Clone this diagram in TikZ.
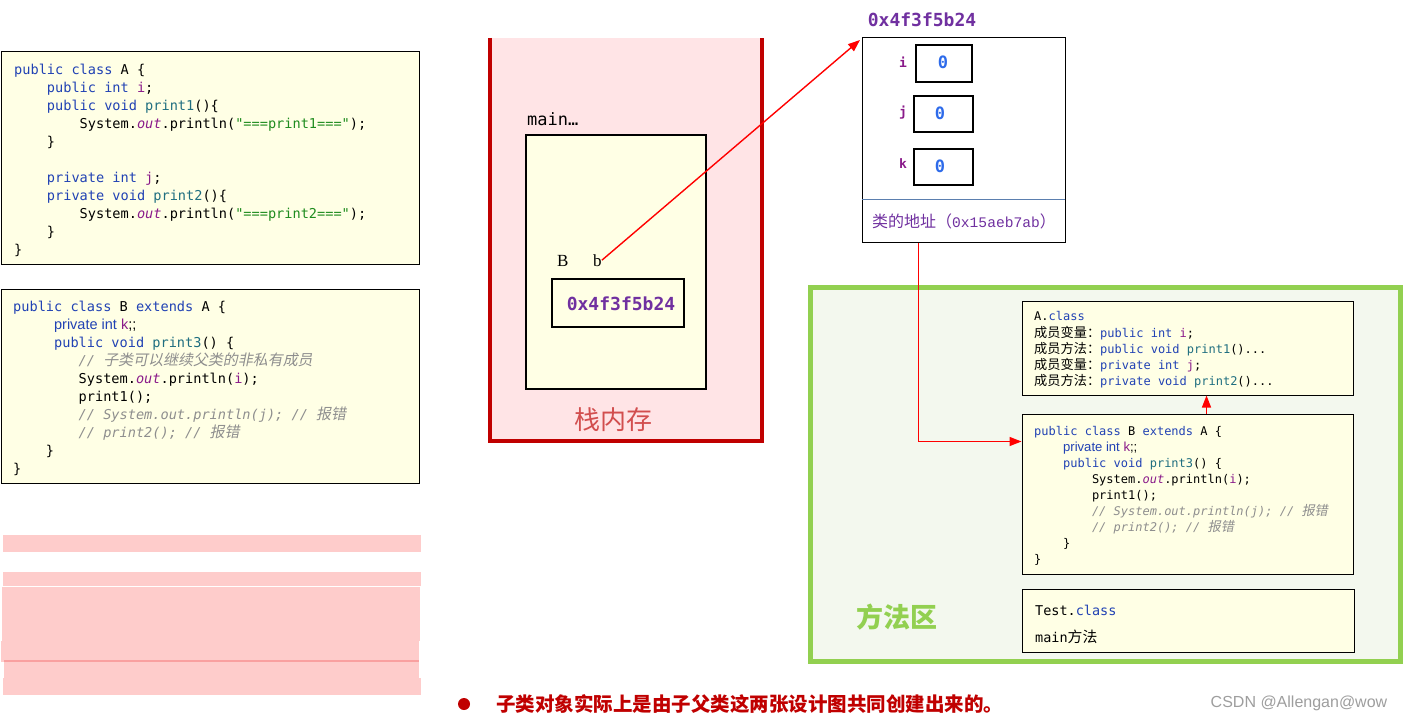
\documentclass[tikz,border=0pt]{standalone}
\usepackage{fontspec}
\usetikzlibrary{arrows.meta,fit}
\setmainfont{Liberation Serif}
\newfontfamily\jcode{DejaVu Sans Mono}
\newfontfamily\jzhfont{Noto Sans CJK SC}[Scale=1.1]
\newfontfamily\jzhitfont{Noto Sans CJK SC}[Scale=1.1,FakeSlant=0.2]
\newfontfamily\jcjk{Noto Sans CJK SC}
\newfontfamily\jsans{Liberation Sans}
\newfontfamily\jthin{Liberation Mono}
\definecolor{codeyel}{HTML}{FFFFE5}
\definecolor{kw}{HTML}{2142B4}
\definecolor{meth}{HTML}{1F6E80}
\definecolor{fld}{HTML}{8A1A8A}
\definecolor{strc}{HTML}{1E8C1E}
\definecolor{cmt}{HTML}{8E8E8E}
\definecolor{addr}{HTML}{7030A0}
\definecolor{zeroblue}{HTML}{2E6BEA}
\definecolor{stackfill}{HTML}{FFE4E6}
\definecolor{stackred}{HTML}{C00000}
\definecolor{stacklabel}{HTML}{D24E4E}
\definecolor{greenb}{HTML}{92D050}
\definecolor{greenfill}{HTML}{F3F8EE}
\definecolor{pinkblk}{HTML}{FECCCB}
\definecolor{pinkline}{HTML}{F9A0A0}
\definecolor{sepline}{HTML}{5B7FAF}
\definecolor{arrred}{HTML}{FF0000}
\definecolor{wmgray}{HTML}{9E9E9E}
\newcommand\jkw[1]{\textcolor{kw}{#1}}
\newcommand\jfl[1]{\textcolor{fld}{#1}}
\newcommand\jme[1]{\textcolor{meth}{#1}}
\newcommand\jstr[1]{\textcolor{strc}{#1}}
\newcommand\jout{\textcolor{fld}{\itshape out}}
\newcommand\jcmt[1]{\textcolor{cmt}{\itshape #1}}
\newcommand\jzh[1]{{\jzhfont #1}}
\newcommand\jzhi[1]{{\jzhitfont #1}}
\newcommand\jind[1]{\hphantom{#1}}
\tikzset{
  box/.style={draw=black, line width=1pt, fill=codeyel, inner sep=0pt},
  thickbox/.style={draw=black, line width=2pt, fill=codeyel, inner sep=0pt},
  codetxt/.style={anchor=north west, inner sep=0pt, align=left, font=\jcode\fontsize{13.6}{18}\selectfont},
  smallcode/.style={anchor=north west, inner sep=0pt, align=left, font=\jcode\fontsize{12}{16}\selectfont},
  redarrow/.style={draw=arrred, line width=1.4pt, -{Triangle[length=12pt,width=9pt]}},
  addrtxt/.style={inner sep=0pt, text=addr, font=\jcode\bfseries\fontsize{18}{20}\selectfont},
  fieldlbl/.style={anchor=base, inner sep=0pt, text=fld, font=\jcode\bfseries\fontsize{13}{14}\selectfont},
  zerotxt/.style={inner sep=0pt, text=zeroblue, font=\jcode\bfseries\fontsize{17}{18}\selectfont},
  pinkrow/.style={fill=pinkblk}
}
\begin{document}
\begin{tikzpicture}[x=1pt,y=-1pt]
\useasboundingbox (0,0) rectangle (1404,722);
\fill[white] (0,0) rectangle (1404,722);

% ---------- left code boxes ----------
\node[box, fit={(1,52)(419,264)}] (boxA) {};
\node[codetxt] (txtA) at (14,61.4) {\strut\jkw{public class} A \{\\
\jind{xxxx}\jkw{public int} \jfl{i};\\
\jind{xxxx}\jkw{public void} \jme{print1}()\{\\
\jind{xxxxxxxx}System.\jout.println(\jstr{"===print1==="});\\
\jind{xxxx}\}\\
\strut\\
\jind{xxxx}\jkw{private int} \jfl{j};\\
\jind{xxxx}\jkw{private void} \jme{print2}()\{\\
\jind{xxxxxxxx}System.\jout.println(\jstr{"===print2==="});\\
\jind{xxxx}\}\\
\}};

\node[box, fit={(1,289)(419,483)}] (boxB) {};
\node[codetxt] (txtB) at (13,298.4) {\strut\jkw{public class} B \jkw{extends} A \{\\
\jind{xxxxx}{\jsans\fontsize{14.5}{18}\selectfont\jkw{private int} \jfl{k};;}\\
\jind{xxxxx}\jkw{public void} \jme{print3}() \{\\
\jind{xxxxxxxx}\jcmt{// \jzhi{子类可以继续父类的非私有成员}}\\
\jind{xxxxxxxx}System.\jout.println(\jfl{i});\\
\jind{xxxxxxxx}print1();\\
\jind{xxxxxxxx}\jcmt{// System.out.println(j); // \jzhi{报错}}\\
\jind{xxxxxxxx}\jcmt{// print2(); // \jzhi{报错}}\\
\jind{xxxx}\}\\
\}};

% ---------- pink blocks ----------
\fill[pinkrow] (3,535) rectangle (421,552);
\fill[pinkrow] (3,572) rectangle (421,586);
\fill[pinkrow] (2,587) rectangle (420,641);
\fill[pinkrow] (1,641) rectangle (419,662);
\fill[pinkline] (4,660) rectangle (419,662);
\fill[pinkrow] (4,662) rectangle (419,678);
\fill[pinkrow] (3,678) rectangle (421,695);

% ---------- stack ----------
\fill[stackfill] (490,38) rectangle (762,441);
\draw[stackred, line width=4.5pt] (490,38) -- (490,441) -- (762,441) -- (762,38);
\node[anchor=base west, inner sep=0pt, font=\jcode\fontsize{17}{18}\selectfont] (mainlbl) at (527,126) {main…};
\node[thickbox, fit={(526,135)(706,389)}] (frame) {};
\node[anchor=base west, inner sep=0pt, font=\fontsize{17}{18}\selectfont] (typeB) at (557,266) {B};
\node[anchor=base west, inner sep=0pt, font=\fontsize{17}{18}\selectfont] (varb) at (593,266) {b};
\node[thickbox, fit={(552,279)(684,327)}] (slot) {};
\node[addrtxt] (slotaddr) at (621,304) {0x4f3f5b24};
\node[inner sep=0pt, text=stacklabel, font=\jcjk\fontsize{26}{28}\selectfont] (stacklbl) at (613,420) {栈内存};

% ---------- heap object ----------
\node[addrtxt] (heapaddr) at (922,20) {0x4f3f5b24};
\node[draw=black, line width=1pt, fill=white, inner sep=0pt, fit={(862,38)(1065,242)}] (heap) {};
\draw[sepline, line width=0.8pt] (862,199) -- (1065,199);
\node[draw=black, line width=2pt, inner sep=0pt, fit={(916,45)(972,82)}] (bi) {};
\node[draw=black, line width=2pt, inner sep=0pt, fit={(914,96)(973,132)}] (bj) {};
\node[draw=black, line width=2pt, inner sep=0pt, fit={(914,149)(973,185)}] (bk) {};
\node[fieldlbl] (li) at (903,68) {i};
\node[fieldlbl] (lj) at (903,117) {j};
\node[fieldlbl] (lk) at (903,169) {k};
\node[zerotxt] (zi) at (943,62) {0};
\node[zerotxt] (zj) at (940,113) {0};
\node[zerotxt] (zk) at (940,166) {0};
\node[anchor=west, inner sep=0pt, text=addr, font=\jcjk\fontsize{16}{18}\selectfont] (classaddr) at (872,221) {类的地址（{\jthin\fontsize{14.6}{18}\selectfont 0x15aeb7ab}）};

% ---------- method area ----------
\node[draw=greenb, line width=5pt, fill=greenfill, inner sep=0pt, fit={(810,287)(1400,661)}] (method) {};
\node[box, fit={(1022,301)(1353,395)}] (acls) {};
\node[smallcode] (acltxt) at (1034,308.8) {\strut A.\jkw{class}\\
\jzh{成员变量：}\jkw{public int} \jfl{i};\\
\jzh{成员方法：}\jkw{public void} \jme{print1}()...\\
\jzh{成员变量：}\jkw{private int} \jfl{j};\\
\jzh{成员方法：}\jkw{private void} \jme{print2}()...};
\node[box, fit={(1022,414)(1353,574)}] (bcls) {};
\node[smallcode] (bcltxt) at (1034,423.8) {\strut\jkw{public class} B \jkw{extends} A \{\\
\jind{xxxx}{\jsans\fontsize{13.1}{16}\selectfont\jkw{private int} \jfl{k};;}\\
\jind{xxxx}\jkw{public void} \jme{print3}() \{\\
\jind{xxxxxxxx}System.\jout.println(\jfl{i});\\
\jind{xxxxxxxx}print1();\\
\jind{xxxxxxxx}\jcmt{// System.out.println(j); // \jzhi{报错}}\\
\jind{xxxxxxxx}\jcmt{// print2(); // \jzhi{报错}}\\
\jind{xxxx}\}\\
\}};
\node[box, fit={(1022,589)(1354,652)}] (tcls) {};
\node[anchor=north west, inner sep=0pt, align=left, font=\jcode\fontsize{13.5}{27}\selectfont] (tcltxt) at (1035,596.1) {\strut Test.\jkw{class}\\ main\jzh{方法}};
\node[inner sep=0pt, text=greenb, font=\jcjk\bfseries\fontsize{27}{28}\selectfont] (methodlbl) at (897,617) {方法区};

% ---------- connectors ----------
\coordinate (hpt) at (860,40);
\draw[redarrow] (varb.east) -- (hpt);
\draw[redarrow] ([xshift=57pt]heap.south west) |- ([yshift=-28pt]bcls.north west);
\draw[redarrow] ([xshift=185pt]bcls.north west) -- ([xshift=185pt]acls.south west);

% ---------- bottom ----------
\fill[stackred] (464,704) circle (6);
\node[anchor=west, inner sep=0pt, text=stackred, font=\jcjk\bfseries\fontsize{19.5}{22}\selectfont] (note) at (496,704) {子类对象实际上是由子父类这两张设计图共同创建出来的。};
\node[inner sep=0pt, text=wmgray, font=\jsans\fontsize{16}{18}\selectfont] (wm) at (1299,703) {CSDN @Allengan@wow};
\end{tikzpicture}
\end{document}
